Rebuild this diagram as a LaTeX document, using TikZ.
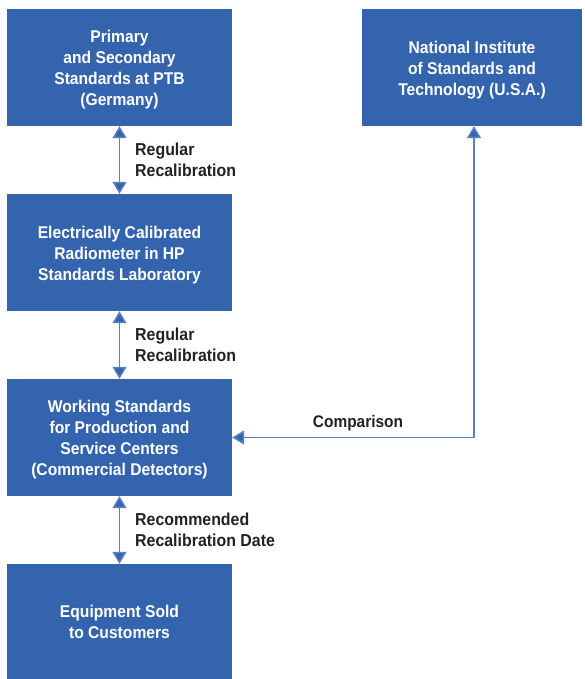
\documentclass[tikz,border=0pt]{standalone}
\usepackage{fontspec}
\setmainfont{Liberation Sans}[FakeStretch=0.92]
\usetikzlibrary{arrows.meta}
\definecolor{boxblue}{HTML}{3464AE}
\definecolor{lineblue}{HTML}{5A80C2}
\definecolor{labelgray}{HTML}{222222}
\tikzset{
  box/.style={rectangle, fill=boxblue, draw=none, minimum width=225pt, minimum height=117pt,
    inner sep=0pt},
  boxtext/.style={inner sep=0pt, text=white, align=center, yshift=-2.5pt,
    font=\fontsize{17}{21}\selectfont\bfseries},
  lbl/.style={inner sep=0pt, text=labelgray, align=left, anchor=west,
    font=\fontsize{17.3}{21}\selectfont\bfseries},
  arr/.style={draw=lineblue, line width=1.5pt, {Triangle[width=14pt,length=12pt,fill=boxblue]}-{Triangle[width=14pt,length=12pt,fill=boxblue]}}
}
\begin{document}
\begin{tikzpicture}[x=1pt,y=1pt]
\useasboundingbox (0,0) rectangle (584,-679);
\node[box, label={[boxtext]center:{Primary\\and Secondary\\Standards at PTB\\(Germany)}}] (ptb) at (119.5,-67.5) {};
\node[box, label={[boxtext]center:{Electrically Calibrated\\Radiometer in HP\\Standards Laboratory}}] (ecr) at (119.5,-252.5) {};
\node[box, label={[boxtext]center:{Working Standards\\for Production and\\Service Centers\\(Commercial Detectors)}}] (ws) at (119.5,-437.5) {};
\node[box, minimum height=116pt, label={[boxtext, yshift=2.5pt]center:{Equipment Sold\\to Customers}}] (eq) at (119.5,-622) {};
\node[box, minimum width=220pt, label={[boxtext]center:{National Institute\\of Standards and\\Technology (U.S.A.)}}] (nist) at (472,-67.5) {};
\draw[arr] (ptb.south) -- (ecr.north);
\draw[arr] (ecr.south) -- (ws.north);
\draw[arr] (ws.south) -- (eq.north);
\draw[arr] ([xshift=2pt]nist.south) |- (ws.east);
\node[lbl] (l1) at (135,-160) {Regular\\Recalibration};
\node[lbl] (l2) at (135,-345) {Regular\\Recalibration};
\node[lbl] (l3) at (135,-530) {Recommended\\Recalibration Date};
\node[text=labelgray, inner sep=0pt, font=\fontsize{16.8}{21}\selectfont\bfseries] (l4) at (358,-423) {Comparison};
\end{tikzpicture}
\end{document}
